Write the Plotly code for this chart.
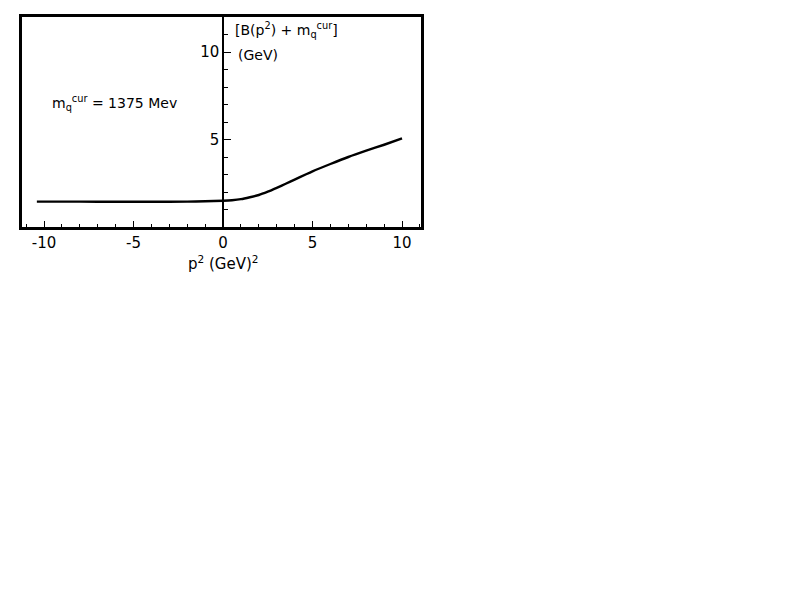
import plotly.graph_objects as go

# data
p2 = [-10.4, -8, -6, -4, -2, -1, 0, 0.5, 1, 1.5, 2, 2.5, 3, 3.5, 4, 5, 6, 7, 8, 9, 10]
mass = [1.45, 1.45, 1.44, 1.44, 1.45, 1.47, 1.50, 1.53, 1.59, 1.70, 1.83, 2.02, 2.24, 2.47, 2.71,
        3.18, 3.60, 4.00, 4.36, 4.70, 5.06]
x_tickvals = [-10, -5, 0, 5, 10]
x_ticktext = ["-10", "-5", "0", "5", "10"]
y_tickvals = [5, 10]
y_ticktext = ["5", "10"]

XR = [-11.23, 11.06]
YR = [0, 12]
FONT = "DejaVu Sans"

fig = go.Figure()
fig.add_trace(go.Scatter(x=p2, y=mass, mode="lines",
                         line=dict(color="black", width=2.4, shape="spline", smoothing=0.6),
                         showlegend=False, hoverinfo="skip"))
fig.add_trace(go.Scatter(x=[], y=[], yaxis="y2", showlegend=False))

fig.update_layout(
    autosize=False, width=795, height=614,
    margin=dict(l=14, r=382, t=6, b=395),
    paper_bgcolor="white", plot_bgcolor="white",
    font=dict(family=FONT, size=14, color="black"),
    xaxis=dict(range=XR, showgrid=False, zeroline=False, showline=True, mirror=True,
               linecolor="black", linewidth=2.5, ticks="inside", ticklen=6, tickwidth=1.2,
               tickcolor="black", tickvals=x_tickvals, ticktext=x_ticktext,
               tickfont=dict(size=15),
               minor=dict(dtick=1, ticks="inside", ticklen=3, tickwidth=1, tickcolor="black")),
    yaxis=dict(range=YR, showgrid=False, zeroline=False, showline=True, mirror=True,
               linecolor="black", linewidth=2.5, ticks="", showticklabels=False),
    yaxis2=dict(range=YR, overlaying="y", anchor="free", position=(0 - XR[0]) / (XR[1] - XR[0]),
                side="left", showgrid=False, zeroline=False, showline=True, linecolor="black",
                linewidth=1.5, ticks="inside", ticklen=7, tickwidth=1.2, tickcolor="black",
                tickvals=y_tickvals, ticktext=y_ticktext, tickfont=dict(size=15),
                minor=dict(dtick=1, ticks="inside", ticklen=4, tickwidth=1, tickcolor="black")),
)

fig.add_annotation(x=-6.05, y=7.1, xref="x", yref="y", showarrow=False,
                   text="m<sub>q</sub><sup>cur</sup> = 1375 Mev", font=dict(size=14))
fig.add_annotation(x=0.55, y=11.25, xref="x", yref="y", showarrow=False, xanchor="left",
                   text="[B(p<sup>2</sup>) + m<sub>q</sub><sup>cur</sup>]", font=dict(size=14))
fig.add_annotation(x=0.7, y=9.85, xref="x", yref="y", showarrow=False, xanchor="left",
                   text="(GeV)", font=dict(size=14))
fig.add_annotation(x=0, y=-0.17, xref="x", yref="paper", showarrow=False, yanchor="middle",
                   text="p<sup>2</sup> (GeV)<sup>2</sup>", font=dict(size=15))

fig.write_html("out.html")
